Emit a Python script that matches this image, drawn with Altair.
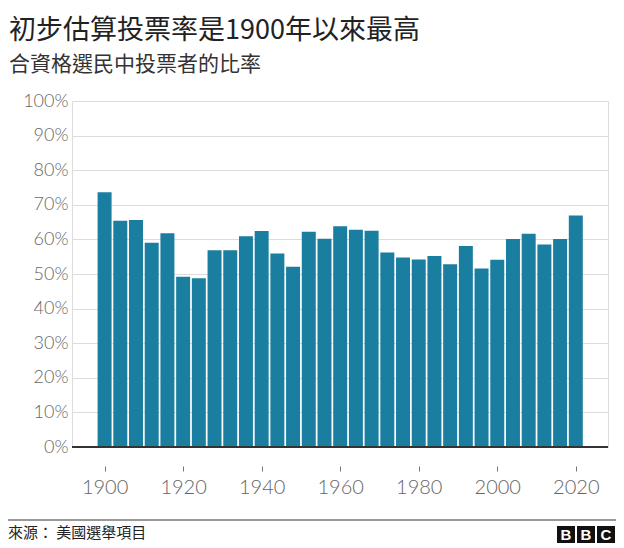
import altair as alt
import pandas as pd

# ---- data ----
years = list(range(1900, 2021, 4))
turnout = [73.6, 65.4, 65.6, 59.0, 61.8, 49.2, 48.8, 56.9, 56.9, 60.9,
           62.4, 55.9, 52.1, 62.2, 60.2, 63.8, 62.8, 62.5, 56.2, 54.8,
           54.2, 55.2, 52.8, 58.1, 51.6, 54.1, 60.1, 61.6, 58.5, 60.1, 66.9]
x_ticks = [1900, 1920, 1940, 1960, 1980, 2000, 2020]
y_ticks = [0, 10, 20, 30, 40, 50, 60, 70, 80, 90, 100]
title_text = ["初步估算投票率是1900年以來最高"]
subtitle_text = ["合資格選民中投票者的比率"]
source_text = ["來源： 美國選舉項目"]
logo_letters = ["B", "B", "C"]

BAR = "#1a7ea0"
CJK = "Noto Sans CJK TC"
NUM = "Lato"
W, H = 536, 346

df = pd.DataFrame({"year": years, "turnout": turnout})
xscale = alt.Scale(domain=[1891.7, 2028.2], nice=False, zero=False)
yscale = alt.Scale(domain=[0, 100], nice=False)

bars = alt.Chart(df).transform_calculate(
    x0="datum.year - 1.78", x1="datum.year + 1.78", zero="0"
).mark_rect(color=BAR).encode(
    x=alt.X("x0:Q", scale=xscale, axis=alt.Axis(
        values=x_ticks, format="d", title=None, domain=False, grid=False,
        ticks=True, tickSize=5, tickColor="#777", tickWidth=1, offset=19,
        labelPadding=6, labelFont=NUM, labelFontSize=20, labelFontWeight=300,
        labelColor="#666", labelOverlap=False, labelFlush=False)),
    x2="x1:Q",
    y=alt.Y("turnout:Q", scale=yscale, axis=alt.Axis(
        values=y_ticks, labelExpr="datum.value + '%'", title=None, domain=False,
        ticks=False, grid=True, gridColor="#dcdcdc", gridWidth=1.2, labelPadding=4,
        labelFont=NUM, labelFontSize=18, labelFontWeight=300, labelColor="#666",
        labelOverlap=False, labelFlush=False, tickCount=11)),
    y2="zero:Q",
)

baseline = alt.Chart(pd.DataFrame({"z": [0]})).mark_rule(
    color="#333", strokeWidth=2
).encode(y=alt.value(H), x=alt.value(0), x2=alt.value(W))

title = alt.Chart(pd.DataFrame({"t": title_text})).mark_text(
    align="left", baseline="middle", font=CJK, fontSize=27, color="#222"
).encode(text="t:N", x=alt.value(-63), y=alt.value(-70))

subtitle = alt.Chart(pd.DataFrame({"t": subtitle_text})).mark_text(
    align="left", baseline="middle", font=CJK, fontSize=21, color="#333"
).encode(text="t:N", x=alt.value(-63), y=alt.value(-36))

footer_line = alt.Chart(pd.DataFrame({"z": [0]})).mark_rule(
    color="#777", strokeWidth=1.5
).encode(y=alt.value(419), x=alt.value(-64), x2=alt.value(544))

source = alt.Chart(pd.DataFrame({"t": source_text})).mark_text(
    align="left", baseline="middle", font=CJK, fontSize=15, color="#222"
).encode(text="t:N", x=alt.value(-64), y=alt.value(432))

logo_layers = []
for i, letter in enumerate(logo_letters):
    x0 = 485 + 20 * i
    box = alt.Chart(pd.DataFrame({"t": [letter]})).mark_rect(color="#111").encode(
        x=alt.value(x0), x2=alt.value(x0 + 18), y=alt.value(425), y2=alt.value(442)
    )
    txt = alt.Chart(pd.DataFrame({"t": [letter]})).mark_text(
        align="center", baseline="middle", font="Liberation Sans", fontWeight="bold",
        fontSize=15, color="white"
    ).encode(text="t:N", x=alt.value(x0 + 9), y=alt.value(434))
    logo_layers += [box, txt]

chart = alt.layer(
    bars, baseline, title, subtitle, footer_line, source, *logo_layers
).properties(
    width=W, height=H,
    padding={"left": 64, "top": 93, "right": 8, "bottom": 101},
    autosize="none",
).configure_view(stroke=None).configure(background="white")

chart.save("out.html", embed_options={"renderer": "svg", "actions": False})
